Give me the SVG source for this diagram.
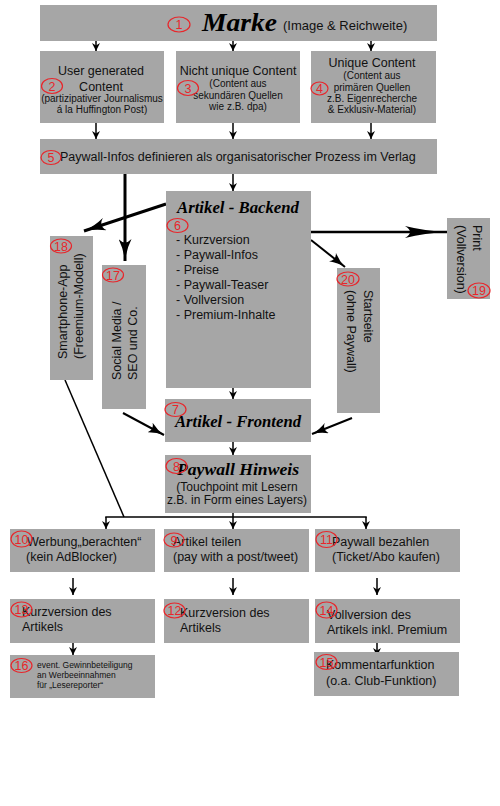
<svg xmlns="http://www.w3.org/2000/svg" width="500" height="806" viewBox="0 0 500 806">
<style>
.box{fill:#a6a6a6}
.t{font-family:"Liberation Sans",Arial,sans-serif;fill:#111}
.m{font-size:12.5px}
.s{font-size:10px}
.c{text-anchor:middle}
.sc{font-family:"Liberation Serif","DejaVu Serif",serif;font-style:italic;font-weight:bold;fill:#000}
.n ellipse{fill:none;stroke:#e8262b;stroke-width:1.2}
.n text{font-family:"Liberation Sans",Arial,sans-serif;font-size:12.5px;fill:#e8262b;text-anchor:middle}
.ln{stroke:#000;fill:none}
.thin{stroke-width:1.5}
</style>
<defs>
<marker id="as" markerUnits="userSpaceOnUse" markerWidth="8" markerHeight="8" viewBox="0 0 10 10" refX="10" refY="5" orient="auto"><path d="M0,0 L10,5 L0,10 L3,5 Z" fill="#000"/></marker>
<marker id="ab" markerUnits="userSpaceOnUse" markerWidth="22" markerHeight="13" viewBox="0 0 22 13" refX="22" refY="6.5" orient="auto"><path d="M0,0 Q10,5 22,6.5 Q10,8 0,13 Q7,6.5 0,0 Z" fill="#000"/></marker>
<marker id="ap" markerUnits="userSpaceOnUse" markerWidth="42" markerHeight="12" viewBox="0 0 42 12" refX="42" refY="6" orient="auto"><path d="M0,0 Q20,5 42,6 Q20,7 0,12 Q10,6 0,0 Z" fill="#000"/></marker>
<marker id="am" markerUnits="userSpaceOnUse" markerWidth="16" markerHeight="11" viewBox="0 0 16 11" refX="16" refY="5.5" orient="auto"><path d="M0,0 Q8,4.5 16,5.5 Q8,6.5 0,11 Q5,5.5 0,0 Z" fill="#000"/></marker>
</defs>

<g id="connectors">
<line class="ln thin" x1="96" y1="41" x2="96" y2="51" marker-end="url(#as)"/>
<line class="ln thin" x1="233" y1="41" x2="233" y2="51" marker-end="url(#as)"/>
<line class="ln thin" x1="371" y1="41" x2="371" y2="51" marker-end="url(#as)"/>
<line class="ln thin" x1="96" y1="123" x2="96" y2="139" marker-end="url(#as)"/>
<line class="ln thin" x1="233" y1="123" x2="233" y2="139" marker-end="url(#as)"/>
<line class="ln thin" x1="371" y1="123" x2="371" y2="139" marker-end="url(#as)"/>
<line class="ln thin" x1="233" y1="174" x2="233" y2="191" marker-end="url(#as)"/>
<line class="ln" stroke-width="3" x1="125" y1="174" x2="125" y2="261" marker-end="url(#ab)"/>
<line class="ln" stroke-width="3" x1="166" y1="204" x2="84" y2="231" marker-end="url(#ab)"/>
<line class="ln" stroke-width="2.5" x1="311" y1="232" x2="447" y2="232" marker-end="url(#ap)"/>
<line class="ln" stroke-width="2" x1="311" y1="240" x2="345" y2="267" marker-end="url(#am)"/>
<line class="ln" stroke-width="2" x1="123" y1="413" x2="164" y2="435" marker-end="url(#am)"/>
<line class="ln" stroke-width="2" x1="352" y1="418" x2="312" y2="434" marker-end="url(#am)"/>
<line class="ln thin" x1="233" y1="388" x2="233" y2="399" marker-end="url(#as)"/>
<line class="ln thin" x1="233" y1="442" x2="233" y2="455" marker-end="url(#as)"/>
<line class="ln thin" x1="65" y1="380" x2="124" y2="517"/>
<line class="ln thin" x1="233" y1="513" x2="233" y2="529" marker-end="url(#as)"/>
<line class="ln thin" x1="105.25" y1="517" x2="366.75" y2="517"/>
<line class="ln thin" x1="106" y1="517" x2="106" y2="529" marker-end="url(#as)"/>
<line class="ln thin" x1="366" y1="517" x2="366" y2="529" marker-end="url(#as)"/>
<line class="ln thin" x1="73" y1="578" x2="73" y2="595" marker-end="url(#as)"/>
<line class="ln thin" x1="233" y1="578" x2="233" y2="595" marker-end="url(#as)"/>
<line class="ln thin" x1="377" y1="578" x2="377" y2="595" marker-end="url(#as)"/>
<line class="ln thin" x1="73" y1="641" x2="73" y2="655" marker-end="url(#as)"/>
<line class="ln thin" x1="377" y1="640" x2="377" y2="656" marker-end="url(#as)"/>
</g>

<g id="n1">
<rect class="box" x="40" y="5" width="397" height="36"/>
<text class="sc" x="202" y="31" font-size="25" textLength="75" lengthAdjust="spacingAndGlyphs">Marke</text>
<text class="t" x="283" y="30" font-size="13">(Image &amp; Reichweite)</text>
<g class="n"><ellipse cx="179" cy="24.5" rx="11" ry="7.5"/><text x="179" y="29">1</text></g>
</g>

<g id="n2">
<rect class="box" x="40" y="51" width="124" height="72"/>
<text class="t m c" x="101" y="75">User generated</text>
<text class="t m c" x="101" y="91">Content</text>
<text class="t s c" x="102" y="102">(partizipativer Journalismus</text>
<text class="t s c" x="102" y="113">á la Huffington Post)</text>
<g class="n"><ellipse cx="52" cy="86" rx="10.5" ry="7.5"/><text x="52" y="90.5">2</text></g>
</g>

<g id="n3">
<rect class="box" x="176" y="51" width="124" height="72"/>
<text class="t m c" x="238" y="75">Nicht unique Content</text>
<text class="t s c" x="238" y="87">(Content aus</text>
<text class="t s c" x="238" y="99">sekundären Quellen</text>
<text class="t s c" x="238" y="110">wie z.B. dpa)</text>
<g class="n"><ellipse cx="188" cy="88" rx="10.5" ry="7.5"/><text x="188" y="92.5">3</text></g>
</g>

<g id="n4">
<rect class="box" x="311" y="51" width="125" height="72"/>
<text class="t m c" x="372" y="67">Unique Content</text>
<text class="t s c" x="372" y="79">(Content aus</text>
<text class="t s c" x="372" y="91">primären Quellen</text>
<text class="t s c" x="372" y="102">z.B. Eigenrecherche</text>
<text class="t s c" x="372" y="113">&amp; Exklusiv-Material)</text>
<g class="n"><ellipse cx="319.5" cy="88.5" rx="8.5" ry="6.5"/><text x="319.5" y="93">4</text></g>
</g>

<g id="n5">
<rect class="box" x="40" y="139" width="397" height="35"/>
<text class="t m" x="60" y="161">Paywall-Infos definieren als organisatorischer Prozess im Verlag</text>
<g class="n"><ellipse cx="51" cy="157.5" rx="10" ry="7"/><text x="51" y="162">5</text></g>
</g>

<g id="n6">
<rect class="box" x="166" y="191" width="145" height="197"/>
<text class="sc" x="177" y="213" font-size="16" textLength="122" lengthAdjust="spacingAndGlyphs">Artikel - Backend</text>
<text class="t m" x="176" y="244">- Kurzversion</text>
<text class="t m" x="176" y="259">- Paywall-Infos</text>
<text class="t m" x="176" y="274">- Preise</text>
<text class="t m" x="176" y="289">- Paywall-Teaser</text>
<text class="t m" x="176" y="304">- Vollversion</text>
<text class="t m" x="176" y="319">- Premium-Inhalte</text>
<g class="n"><ellipse cx="177.5" cy="225.5" rx="10.5" ry="7"/><text x="177.5" y="230">6</text></g>
</g>

<g id="n7">
<rect class="box" x="165" y="399" width="146" height="43"/>
<text class="sc" x="175" y="427" font-size="16" textLength="126" lengthAdjust="spacingAndGlyphs">Artikel - Frontend</text>
<g class="n"><ellipse cx="175.5" cy="409.5" rx="10.5" ry="7"/><text x="175.5" y="414">7</text></g>
</g>

<g id="n8">
<rect class="box" x="165" y="455" width="146" height="58"/>
<text class="sc" x="177" y="475" font-size="16" textLength="122" lengthAdjust="spacingAndGlyphs">Paywall Hinweis</text>
<text class="t c" font-size="12" x="237" y="491">(Touchpoint mit Lesern</text>
<text class="t c" font-size="12" x="237" y="504">z.B. in Form eines Layers)</text>
<g class="n"><ellipse cx="176.5" cy="466" rx="10.5" ry="7.5"/><text x="176.5" y="470.5">8</text></g>
</g>

<g id="n18">
<rect class="box" x="50" y="236" width="43" height="144"/>
<text class="t m" transform="translate(67,359) rotate(-90)">Smartphone-App</text>
<text class="t m" transform="translate(83,359) rotate(-90)">(Freemium-Modell)</text>
<g class="n"><ellipse cx="61" cy="246" rx="10.5" ry="7"/><text x="61" y="250.5">18</text></g>
</g>

<g id="n17">
<rect class="box" x="102" y="265" width="44" height="144"/>
<text class="t m" transform="translate(121,380) rotate(-90)">Social Media /</text>
<text class="t m" transform="translate(137,380) rotate(-90)">SEO und Co.</text>
<g class="n"><ellipse cx="113" cy="275" rx="10.5" ry="7"/><text x="113" y="279.5">17</text></g>
</g>

<g id="n20">
<rect class="box" x="337" y="268" width="43" height="145"/>
<text class="t m" transform="translate(364,290) rotate(90)">Startseite</text>
<text class="t m" transform="translate(347,290) rotate(90)">(ohne Paywall)</text>
<g class="n"><ellipse cx="348" cy="279" rx="11" ry="7"/><text x="348" y="283.5">20</text></g>
</g>

<g id="n19">
<rect class="box" x="447" y="218" width="43" height="81"/>
<text class="t m" transform="translate(473,225) rotate(90)">Print</text>
<text class="t m" transform="translate(457,225) rotate(90)">(Vollversion)</text>
<g class="n"><ellipse cx="479" cy="290.5" rx="11" ry="7.5"/><text x="479" y="295">19</text></g>
</g>

<g id="n10">
<rect class="box" x="10" y="529" width="145" height="43"/>
<text class="t m" x="27" y="546">Werbung„berachten“</text>
<text class="t m" x="26" y="561">(kein AdBlocker)</text>
<g class="n"><ellipse cx="21.5" cy="539" rx="10.5" ry="8"/><text x="21.5" y="543.5">10</text></g>
</g>

<g id="n9">
<rect class="box" x="164" y="529" width="145" height="43"/>
<text class="t m" x="173" y="546">Artikel teilen</text>
<text class="t m" x="173" y="561">(pay with a post/tweet)</text>
<g class="n"><ellipse cx="174" cy="540" rx="10" ry="7"/><text x="174" y="544.5">9</text></g>
</g>

<g id="n11">
<rect class="box" x="315" y="529" width="145" height="43"/>
<text class="t m" x="332" y="546">Paywall bezahlen</text>
<text class="t m" x="332" y="561">(Ticket/Abo kaufen)</text>
<g class="n"><ellipse cx="326.5" cy="539.5" rx="10.5" ry="8"/><text x="326.5" y="544">11</text></g>
</g>

<g id="n13">
<rect class="box" x="10" y="599" width="145" height="44"/>
<text class="t m" x="22" y="616">Kurzversion des</text>
<text class="t m" x="22" y="631">Artikels</text>
<g class="n"><ellipse cx="21.5" cy="609.5" rx="10.5" ry="7.5"/><text x="21.5" y="614">13</text></g>
</g>

<g id="n12">
<rect class="box" x="164" y="599" width="145" height="44"/>
<text class="t m" x="180" y="617">Kurzversion des</text>
<text class="t m" x="180" y="632">Artikels</text>
<g class="n"><ellipse cx="174.5" cy="610.5" rx="10.5" ry="7.5"/><text x="174.5" y="615">12</text></g>
</g>

<g id="n14">
<rect class="box" x="315" y="599" width="145" height="44"/>
<text class="t m" x="327" y="619">Vollversion des</text>
<text class="t m" x="327" y="634">Artikels inkl. Premium</text>
<g class="n"><ellipse cx="326.5" cy="610" rx="10.5" ry="8"/><text x="326.5" y="614.5">14</text></g>
</g>

<g id="n16">
<rect class="box" x="10" y="655" width="145" height="43"/>
<text class="t" font-size="8.5" x="37" y="668">event. Gewinnbeteiligung</text>
<text class="t" font-size="8.5" x="37" y="678">an Werbeeinnahmen</text>
<text class="t" font-size="8.5" x="37" y="688">für „Lesereporter“</text>
<g class="n"><ellipse cx="21.5" cy="665.5" rx="10.5" ry="7"/><text x="21.5" y="670">16</text></g>
</g>

<g id="n15">
<rect class="box" x="314" y="652" width="145" height="44"/>
<text class="t m" x="326" y="669">Kommentarfunktion</text>
<text class="t m" x="326" y="685">(o.a. Club-Funktion)</text>
<g class="n"><ellipse cx="326.5" cy="662" rx="10.5" ry="7.5"/><text x="326.5" y="666.5">15</text></g>
</g>
</svg>
